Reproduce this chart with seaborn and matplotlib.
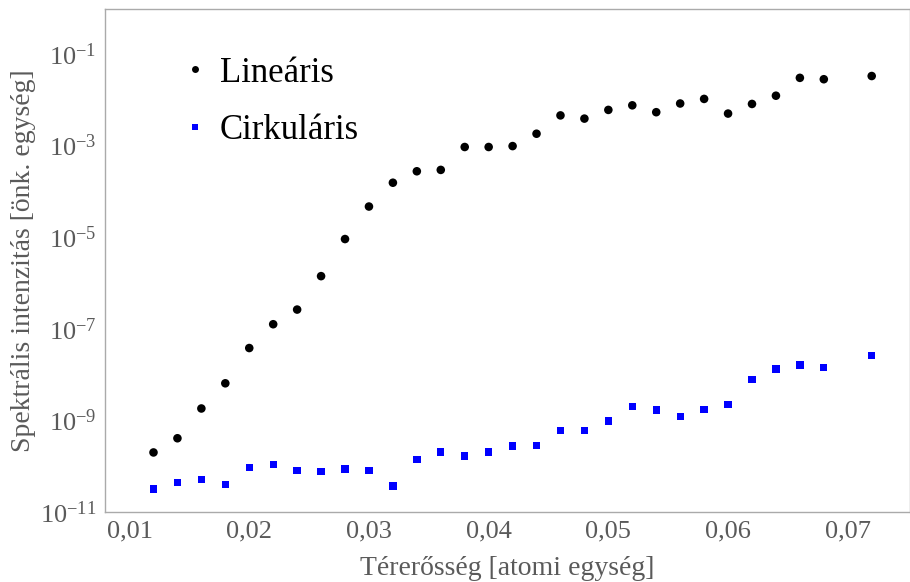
import numpy as np
import pandas as pd
import matplotlib
matplotlib.use("Agg")
import matplotlib.pyplot as plt
import matplotlib.ticker as mticker
import seaborn as sns

# ---- data (log10 values) ----
x_lin = [0.012, 0.014, 0.016, 0.018, 0.020, 0.022, 0.024, 0.026, 0.028, 0.030,
         0.032, 0.034, 0.036, 0.038, 0.040, 0.042, 0.044, 0.046, 0.048, 0.050,
         0.052, 0.054, 0.056, 0.058, 0.060, 0.062, 0.064, 0.066, 0.068, 0.072]
log_lin = [-9.70, -9.39, -8.74, -8.19, -7.42, -6.90, -6.58, -5.85, -5.04, -4.33,
           -3.81, -3.56, -3.53, -3.03, -3.03, -3.01, -2.74, -2.34, -2.41, -2.22,
           -2.12, -2.27, -2.08, -1.98, -2.30, -2.09, -1.91, -1.52, -1.55, -1.48]
x_cir = list(x_lin)
log_cir = [-10.50, -10.36, -10.29, -10.40, -10.03, -9.96, -10.10, -10.11, -10.06, -10.10,
           -10.43, -9.86, -9.69, -9.78, -9.69, -9.56, -9.55, -9.22, -9.22, -9.01,
           -8.70, -8.77, -8.92, -8.76, -8.65, -8.10, -7.88, -7.79, -7.84, -7.58]
series_names = ["Lineáris", "Cirkuláris"]
x_ticks = [0.01, 0.02, 0.03, 0.04, 0.05, 0.06, 0.07]
y_ticks = [1e-11, 1e-9, 1e-7, 1e-5, 1e-3, 1e-1]
x_label = "Térerősség [atomi egység]"
y_label = "Spektrális intenzitás [önk. egység]"

df = pd.DataFrame({
    "x": x_lin + x_cir,
    "y": list(10.0 ** np.array(log_lin)) + list(10.0 ** np.array(log_cir)),
    "series": [series_names[0]] * len(x_lin) + [series_names[1]] * len(x_cir),
})

sns.set_style("white")
plt.rcParams["font.family"] = ["Liberation Serif", "DejaVu Serif"]
plt.rcParams["mathtext.fontset"] = "custom"
plt.rcParams["mathtext.rm"] = "Liberation Serif"
plt.rcParams["mathtext.it"] = "Liberation Serif:italic"

fig = plt.figure(figsize=(9.10, 5.82), dpi=100)
ax = fig.add_axes([0.1154, 0.1203, 0.8846, 0.8642])

gray = "#5a5a5a"
sns.scatterplot(data=df, x="x", y="y", hue="series", style="series", size="series",
                palette={"Lineáris": "black", "Cirkuláris": "#0000ff"},
                markers={"Lineáris": "o", "Cirkuláris": "s"},
                sizes={"Lineáris": 38, "Cirkuláris": 28},
                linewidth=0, ax=ax, legend=True)

ax.set_yscale("log")
ax.set_xlim(0.00795, 0.0752)
ax.set_ylim(1e-11, 10 ** -0.017)

ax.xaxis.set_major_locator(mticker.FixedLocator(x_ticks))
ax.xaxis.set_major_formatter(mticker.FuncFormatter(lambda v, p: f"{v:.2f}".replace(".", ",")))
ax.yaxis.set_major_locator(mticker.FixedLocator(y_ticks))
ax.yaxis.set_minor_locator(mticker.NullLocator())
ax.yaxis.set_major_formatter(mticker.LogFormatterMathtext())

ax.tick_params(axis="both", which="major", direction="in", length=4, width=0.8,
               color="#999999", labelsize=19, labelcolor=gray, pad=6)
for sp in ax.spines.values():
    sp.set_color("#aaaaaa")
    sp.set_linewidth(1.0)

ax.set_xlabel(x_label, fontsize=20, color=gray, labelpad=10)
ax.set_ylabel(y_label, fontsize=20, color=gray, labelpad=3)

handles, labels = ax.get_legend_handles_labels()
for h in handles:
    h.set_markersize(5)
leg = ax.legend(handles=handles, labels=labels, loc="upper left",
                bbox_to_anchor=(0.0776, 0.933), frameon=False, fontsize=25,
                handletextpad=0.3, labelspacing=0.7, handlelength=0.8,
                borderaxespad=0)
for t in leg.get_texts():
    t.set_color("black")

fig.savefig("out.png", dpi=100)
